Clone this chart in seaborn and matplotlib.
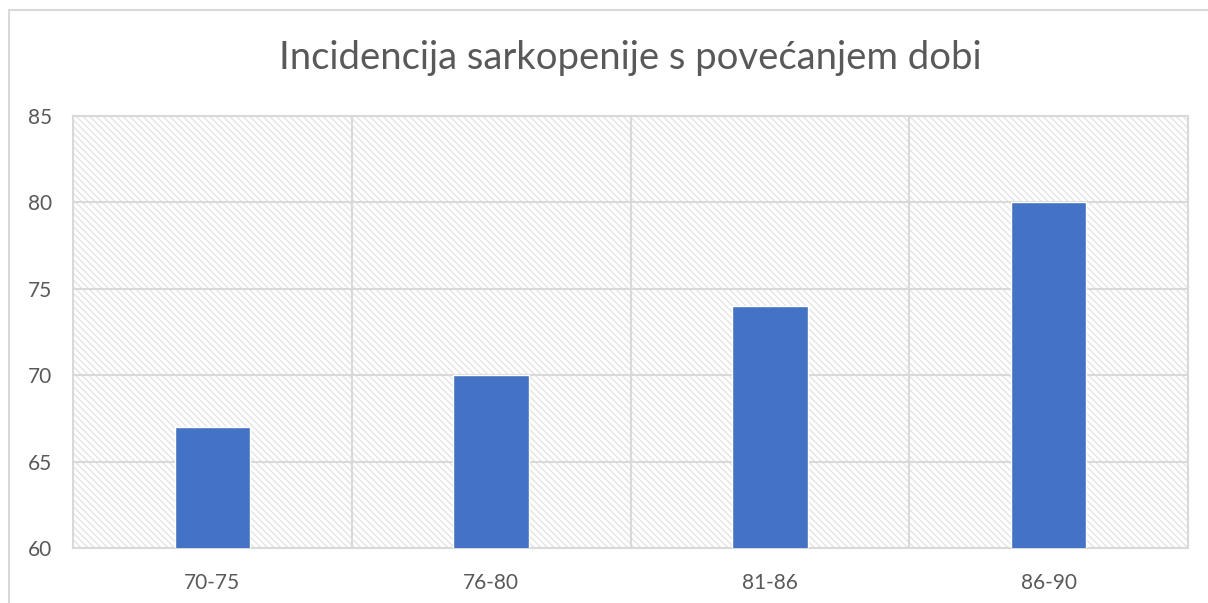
import matplotlib
matplotlib.use("Agg")
import matplotlib.pyplot as plt
import matplotlib.patches as mpatches
from matplotlib.ticker import FixedLocator, MultipleLocator
import seaborn as sns
import pandas as pd

# podaci s grafikona
dobne_skupine = ["70-75", "76-80", "81-86", "86-90"]
incidencija = [67, 70, 74, 80]
naslov = "Incidencija sarkopenije s povećanjem dobi"

GRID = "#d9d9d9"
TEXT = "#595959"
BAR = "#4472C4"

sns.set_theme(style="white")
plt.rcParams["font.family"] = ["Lato", "DejaVu Sans"]
plt.rcParams["hatch.linewidth"] = 0.9

df = pd.DataFrame({"Dob": dobne_skupine, "Incidencija": incidencija})

fig = plt.figure(figsize=(12.08, 6.03), dpi=100)
ax = fig.add_axes([73 / 1208, 1 - 548 / 603, (1188 - 73) / 1208, (548 - 116) / 603])

# okvir grafikona
fig.patches.append(mpatches.Rectangle((9 / 1208, -0.1), 1.2, 1.1 - 10 / 603,
                                      transform=fig.transFigure, fill=False,
                                      edgecolor=GRID, linewidth=1.5, zorder=0))

# šrafirana pozadina
ax.set_facecolor("white")
ax.add_patch(mpatches.Rectangle((0, 0), 1, 1, transform=ax.transAxes, facecolor="white",
                                edgecolor="#e2e2e2", linewidth=0, hatch="\\\\\\\\\\", zorder=0))

sns.barplot(data=df, x="Dob", y="Incidencija", color=BAR, saturation=1,
            width=0.27, ax=ax, zorder=3)

ax.set_ylim(60, 85)
ax.set_xlim(-0.5, 3.5)
ax.yaxis.set_major_locator(MultipleLocator(5))
ax.xaxis.set_minor_locator(FixedLocator([0.5, 1.5, 2.5]))
ax.grid(axis="y", which="major", color=GRID, linewidth=1.5, zorder=1)
ax.grid(axis="x", which="minor", color=GRID, linewidth=1.5, zorder=1)

for s in ax.spines.values():
    s.set_visible(True)
    s.set_color(GRID)
    s.set_linewidth(1.5)

ax.set_xlabel("")
ax.set_ylabel("")
ax.tick_params(axis="both", which="both", length=0, labelsize=15, labelcolor=TEXT)
ax.tick_params(axis="y", pad=15)
ax.tick_params(axis="x", pad=18)

fig.text((73 + 1188) / 2 / 1208, 1 - 58 / 603, naslov, ha="center", va="center",
         fontsize=27.5, color=TEXT)

fig.savefig("out.png", dpi=100)
